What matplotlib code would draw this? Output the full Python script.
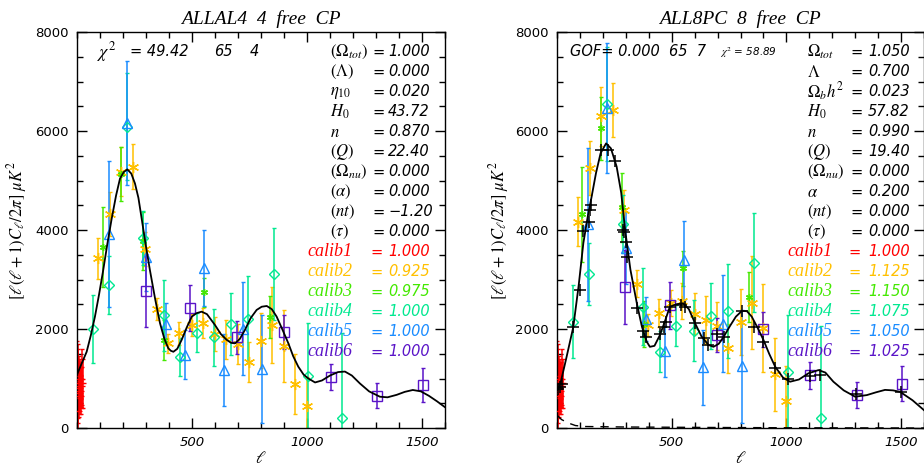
import matplotlib
matplotlib.use("Agg")
import matplotlib.pyplot as plt
from matplotlib.ticker import MultipleLocator

plt.rcParams['mathtext.fontset'] = 'stix'
plt.rcParams['font.family'] = 'DejaVu Sans'

# calibration factors of the two fits
calib_left = [1.000, 0.925, 0.975, 1.000, 1.000, 1.000]
calib_right = [1.000, 1.125, 1.150, 1.075, 1.050, 1.025]

# band powers as plotted in the left panel (uK^2)
red_l = [2, 3, 4, 5, 6, 7, 8, 9, 10, 11, 12, 13, 14, 15, 16, 17, 18, 19, 20, 22, 24]
red_v = [350, 800, 900, 700, 850, 1000, 650, 900, 750, 950, 700, 1050, 800, 600,
         900, 750, 1000, 650, 850, 1000, 900]
red_e = [1400, 900, 700, 600, 500, 450, 420, 400, 380, 360, 350, 340, 330, 320,
         320, 330, 340, 360, 380, 600, 500]

orange_l = [93, 145, 192, 243, 294, 348, 396, 445, 499, 547, 601, 649, 699, 747,
            801, 849, 900, 949, 1000]
orange_v = [3430, 4320, 5180, 5280, 3620, 2400, 1710, 1910, 2080, 2115, 1900, 1790,
            1700, 1325, 1765, 2080, 1655, 890, 450]
orange_e = [410, 450, 490, 450, 340, 220, 190, 225, 220, 300, 340, 400, 400, 405,
            550, 775, 730, 610, 585]

green_l = [111, 190, 285, 379, 550, 838]
green_v = [3660, 5130, 3780, 1780, 2740, 2240]
green_e = [810, 540, 590, 400, 300, 430]

teal_l = [70, 140, 218, 287, 377, 447, 520, 597, 670, 744, 857, 1006, 1152]
teal_v = [2000, 2890, 6090, 3830, 2280, 1430, 1925, 1830, 2100, 2195, 3110, 1060, 195]
teal_e = [685, 585, 1075, 545, 720, 385, 390, 570, 620, 880, 930, 1055, 1715]

blue_l = [137, 218, 301, 389, 471, 554, 637, 722, 806]
blue_v = [3920, 6155, 3460, 2100, 1475, 3225, 1170, 2010, 1185]
blue_e = [1475, 1250, 690, 420, 495, 765, 725, 940, 1090]

purple_l = [298, 491, 696, 898, 1105, 1306, 1504]
purple_v = [2775, 2420, 1830, 1945, 1035, 655, 870]
purple_e = [735, 460, 340, 345, 265, 255, 345]

# model curves
left_curve_l = [2, 20, 42, 60, 78, 96, 114, 132, 151, 170, 187, 203, 219, 236, 252,
                267, 281, 298, 317, 340, 361, 380, 397, 408, 419, 436, 455, 477, 499,
                520, 542, 565, 600, 625, 651, 670, 687, 708, 730, 755, 781, 803, 825,
                847, 868, 893, 919, 940, 962, 985, 1006, 1035, 1065, 1100, 1135, 1165,
                1195, 1230, 1270, 1317, 1350, 1390, 1425, 1460, 1495, 1530, 1565, 1600]
left_curve_v = [1100, 1300, 1540, 1870, 2250, 2700, 3190, 3720, 4235, 4700, 5040,
                5170, 5225, 5140, 4940, 4650, 4235, 3720, 3190, 2600, 2115, 1800, 1610,
                1560, 1540, 1600, 1780, 2030, 2250, 2320, 2350, 2300, 2080, 1900, 1780,
                1720, 1710, 1800, 1980, 2220, 2385, 2450, 2465, 2400, 2250, 1990, 1710,
                1450, 1240, 1080, 1000, 920, 960, 1060, 1130, 1140, 1060, 900, 740, 632,
                620, 670, 730, 768, 740, 650, 540, 420]

right_curve_l = [2, 15, 40, 71, 95, 115, 135, 150, 170, 190, 214, 235, 260, 280, 297,
                 320, 348, 370, 391, 405, 425, 449, 470, 492, 520, 550, 575, 602, 630,
                 660, 682, 705, 725, 754, 780, 806, 828, 849, 875, 900, 925, 951, 985,
                 1016, 1055, 1096, 1140, 1170, 1205, 1250, 1300, 1351, 1390, 1430, 1465,
                 1496, 1550, 1600]
right_curve_v = [770, 900, 1400, 2040, 2900, 3740, 4300, 4650, 5150, 5550, 5750, 5650,
                 5280, 4750, 4000, 3200, 2520, 2050, 1745, 1640, 1660, 1880, 2150, 2450,
                 2500, 2520, 2400, 2115, 1850, 1680, 1640, 1700, 1830, 2060, 2250, 2365,
                 2360, 2250, 2020, 1780, 1500, 1240, 1020, 935, 980, 1105, 1170, 1120,
                 935, 760, 632, 665, 720, 770, 760, 730, 560, 360]

dash_l = [2, 20, 50, 80, 120, 300, 700, 1000, 1600]
dash_v = [250, 170, 100, 50, 30, 20, 10, 5, 0]

plus_l = [5, 11, 20, 69, 101, 113, 139, 145, 149, 193, 222, 251, 287, 294, 302, 304,
          348, 374, 389, 447, 466, 476, 491, 542, 556, 600, 639, 658, 696, 726, 805,
          857, 898, 950, 1008, 1101, 1148, 1302, 1501]
plus_v = [780, 835, 880, 2050, 2790, 3970, 4170, 4400, 4500, 5615, 5615, 5390, 4000,
          3960, 3765, 3460, 2430, 1950, 1845, 1900, 2050, 2150, 2450, 2485, 2450, 2115,
          1810, 1675, 1900, 1830, 2365, 2045, 1730, 1210, 1000, 1050, 1070, 690, 720]

left_names = [r'$(\Omega_{tot})$', r'$(\Lambda)$', r'$\eta_{10}$', r'$H_0$', r'$n$',
              r'$(Q)$', r'$(\Omega_{nu})$', r'$(\alpha)$', r'$(nt)$', r'$(\tau)$']
left_vals = ['1.000', '0.000', '0.020', '43.72', '0.870', '22.40', '0.000', '0.000',
             '\u22121.20', '0.000']
right_names = [r'$\Omega_{tot}$', r'$\Lambda$', r'$\Omega_b h^2$', r'$H_0$', r'$n$',
               r'$(Q)$', r'$(\Omega_{nu})$', r'$\alpha$', r'$(nt)$', r'$(\tau)$']
right_vals = ['1.050', '0.700', '0.023', '57.82', '0.990', '19.40', '0.000', '0.200',
              '0.000', '0.000']

colors = ['#ff0000', '#ffc000', '#44e800', '#00e890', '#1a8cff', '#5a14c8']
datasets = [
    (red_l, red_v, red_e, '_', 4),
    (orange_l, orange_v, orange_e, (6, 2, 0), 8),
    (green_l, green_v, green_e, (6, 2, 0), 5),
    (teal_l, teal_v, teal_e, 'D', 5),
    (blue_l, blue_v, blue_e, '^', 7),
    (purple_l, purple_v, purple_e, 's', 7),
]

W, H = 924, 468
fig = plt.figure(figsize=(W / 100, H / 100), dpi=100)


def ftext(x, y, s, **kw):
    fig.text(x / W, 1 - y / H, s, va='center', **kw)


def draw_panel(ax, calib, curve_l, curve_v):
    for i, (l, v, e, m, ms) in enumerate(datasets):
        f = calib[i] / calib_left[i]
        ax.errorbar(l, [x * f for x in v], yerr=[x * f for x in e], fmt='none',
                    ecolor=colors[i], elinewidth=1.1, capsize=1.5, capthick=1.0,
                    zorder=2)
        ax.plot(l, [x * f for x in v], ls='none', marker=m, ms=ms, mfc='none',
                mec=colors[i], mew=1.0, zorder=3)
    ax.plot(curve_l, curve_v, color='black', lw=1.3, zorder=4)
    ax.set_xlim(0, 1600)
    ax.set_ylim(0, 8000)
    ax.set_xticks([500, 1000, 1500])
    ax.set_yticks([0, 2000, 4000, 6000, 8000])
    ax.xaxis.set_minor_locator(MultipleLocator(100))
    ax.yaxis.set_minor_locator(MultipleLocator(500))
    ax.tick_params(which='both', direction='in', top=True, right=True, labelsize=9.5,
                   width=1)
    ax.tick_params(which='major', length=7, pad=6)
    ax.tick_params(which='minor', length=4)
    for lab in ax.get_xticklabels():
        lab.set_style('italic')
    for s in ax.spines.values():
        s.set_linewidth(1.0)


ax1 = fig.add_axes([77 / W, 40 / H, 368 / W, 396 / H])
draw_panel(ax1, calib_left, left_curve_l, left_curve_v)
ax2 = fig.add_axes([557 / W, 40 / H, 367 / W, 396 / H])
draw_panel(ax2, calib_right, right_curve_l, right_curve_v)
ax2.plot(dash_l, dash_v, color='black', lw=1.0, ls=(0, (6, 5)), zorder=4)
ax2.plot(plus_l, plus_v, ls='none', marker='+', ms=8, mew=1.1, color='black', zorder=5)

ylab = r'$[\ell(\ell+1)C_\ell/2\pi]\ \mu K^2$'
ftext(17, 230, ylab, rotation=90, ha='center', fontsize=12)
ftext(499, 230, ylab, rotation=90, ha='center', fontsize=12)
ftext(261, 458, r'$\ell$', ha='center', fontsize=12)
ftext(741, 458, r'$\ell$', ha='center', fontsize=12)

title_kw = dict(ha='center', fontsize=14, style='italic', family='Liberation Serif')
ftext(261, 19, 'ALLAL4  4  free  CP', **title_kw)
ftext(740, 19, 'ALL8PC  8  free  CP', **title_kw)

num_kw = dict(fontsize=10.5, style='italic')
ftext(97, 52, r'$\chi^2$', fontsize=13)
ftext(130, 52, '= 49.42', **num_kw)
ftext(214, 52, '65', **num_kw)
ftext(250, 52, '4', **num_kw)
ftext(570, 52, 'GOF= 0.000  65  7', **num_kw)
ftext(720, 53, r'$\chi^2$ = 58.89', fontsize=7.5, style='italic')

for i in range(10):
    y = 52 + 20 * i
    ftext(330, y, left_names[i], fontsize=12)
    ftext(372, y, '=', **num_kw)
    ftext(388, y, left_vals[i], **num_kw)
    ftext(807, y, right_names[i], fontsize=12)
    ftext(850, y, '=', **num_kw)
    ftext(868, y, right_vals[i], **num_kw)

for i in range(6):
    y = 252 + 20 * i
    ck = dict(color=colors[i], fontsize=10.5, style='italic')
    ftext(307, y, 'calib%d' % (i + 1), family='Liberation Serif', **{**ck, 'fontsize': 13})
    ftext(370, y, '=', **ck)
    ftext(388, y, '%.3f' % calib_left[i], **ck)
    ftext(787, y, 'calib%d' % (i + 1), family='Liberation Serif', **{**ck, 'fontsize': 13})
    ftext(848, y, '=', **ck)
    ftext(868, y, '%.3f' % calib_right[i], **ck)

fig.savefig('out.png', dpi=100)
